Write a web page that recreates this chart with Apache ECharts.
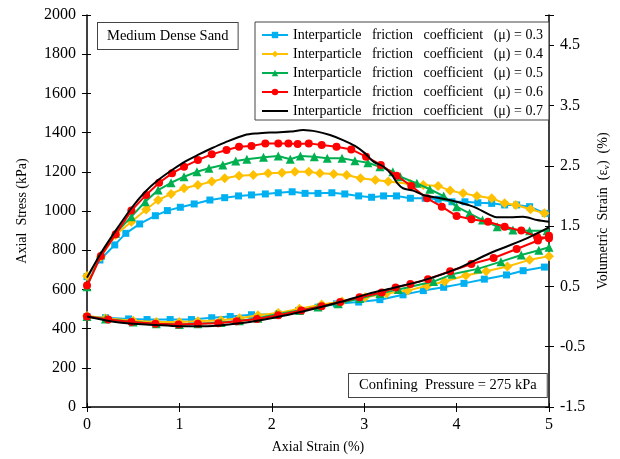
<!DOCTYPE html>
<html><head><meta charset="utf-8">
<script src="https://cdn.jsdelivr.net/npm/echarts@6/dist/echarts.min.js"></script>
<style>html,body{margin:0;padding:0;background:#fff}#c{width:620px;height:459px}</style>
</head><body><div id="c"></div>
<script>
const seriesNames = [
  'Interparticle   friction   coefficient   (\u03bc) = 0.3',
  'Interparticle   friction   coefficient   (\u03bc) = 0.4',
  'Interparticle   friction   coefficient   (\u03bc) = 0.5',
  'Interparticle   friction   coefficient   (\u03bc) = 0.6',
  'Interparticle   friction   coefficient   (\u03bc) = 0.7'
];
const colors = ['#00B0F0', '#FFC000', '#00B050', '#FF0000', '#000000'];
const symbols = ['rect', 'diamond', 'triangle', 'circle', 'none'];
const symbolSizes = [7, 10, 9, 8, 0];

// Axial stress (kPa) vs axial strain (%)
const stress03 = [[0,665],[0.14,750],[0.3,827],[0.42,886],[0.57,934],[0.74,976],[0.87,1002],[1.01,1019],[1.16,1036],[1.33,1056],[1.49,1068],[1.64,1077],[1.78,1082],[1.93,1087],[2.07,1093],[2.22,1098],[2.36,1090],[2.5,1090],[2.65,1093],[2.79,1087],[2.94,1077],[3.08,1070],[3.21,1077],[3.35,1077],[3.5,1065],[3.66,1065],[3.8,1060],[3.95,1047],[4.09,1047],[4.23,1042],[4.38,1039],[4.52,1031],[4.65,1031],[4.79,1022],[4.96,988]];
const stress04 = [[0,668],[0.15,767],[0.31,878],[0.48,945],[0.64,1008],[0.77,1056],[0.91,1087],[1.05,1116],[1.2,1133],[1.35,1150],[1.49,1167],[1.645,1180],[1.8,1184],[1.96,1192],[2.11,1195],[2.25,1200],[2.4,1200],[2.52,1192],[2.67,1189],[2.81,1184],[2.96,1167],[3.12,1158],[3.26,1150],[3.5,1138],[3.64,1133],[3.8,1128],[3.93,1104],[4.07,1090],[4.22,1077],[4.38,1065],[4.52,1039],[4.64,1031],[4.8,1009],[4.95,988]];
const stress05 = [[0,614],[0.15,776],[0.31,886],[0.48,971],[0.63,1047],[0.77,1107],[0.91,1144],[1.05,1175],[1.19,1200],[1.32,1218],[1.47,1235],[1.61,1255],[1.73,1264],[1.91,1274],[2.07,1281],[2.2,1264],[2.31,1281],[2.46,1277],[2.6,1269],[2.76,1269],[2.9,1257],[3.04,1246],[3.17,1226],[3.31,1200],[3.39,1175],[3.57,1141],[3.71,1111],[3.86,1076],[4.0,1022],[4.14,988],[4.28,954],[4.44,920],[4.61,903],[4.79,899],[4.98,899]];
const stress06 = [[0,620],[0.15,770],[0.31,881],[0.48,1002],[0.64,1082],[0.78,1144],[0.92,1192],[1.05,1226],[1.2,1260],[1.35,1289],[1.51,1311],[1.645,1328],[1.78,1332],[1.93,1345],[2.07,1345],[2.18,1345],[2.28,1342],[2.4,1345],[2.54,1337],[2.7,1328],[2.86,1314],[3.02,1277],[3.18,1235],[3.35,1180],[3.51,1128],[3.68,1065],[3.84,1022],[4.0,974],[4.16,958],[4.34,945],[4.52,920],[4.7,900],[4.87,869],[5.0,861]];
const stress07 = [[0,660],[0.16,792],[0.34,920],[0.48,1014],[0.63,1098],[0.77,1158],[0.92,1209],[1.06,1252],[1.2,1286],[1.35,1320],[1.49,1349],[1.71,1388],[1.84,1396],[2.02,1401],[2.2,1405],[2.34,1413],[2.49,1405],[2.63,1388],[2.77,1362],[2.9,1332],[3.01,1294],[3.1,1252],[3.21,1226],[3.3,1184],[3.36,1141],[3.42,1116],[3.53,1104],[3.64,1082],[3.82,1065],[4.0,1047],[4.18,1022],[4.36,980],[4.43,968],[4.58,968],[4.72,971],[4.87,954],[5.0,945]];

// Volumetric strain (%) vs axial strain (%)
const vol03 = [[0,0],[0.2,-0.02],[0.45,-0.04],[0.65,-0.05],[0.9,-0.05],[1.13,-0.05],[1.35,-0.02],[1.55,0.0],[1.78,0.03],[2.07,0.04],[2.29,0.1],[2.5,0.155],[2.7,0.21],[2.94,0.24],[3.17,0.28],[3.42,0.36],[3.64,0.43],[3.86,0.485],[4.08,0.55],[4.3,0.62],[4.54,0.69],[4.72,0.76],[4.95,0.82]];
const vol04 = [[0,0.01],[0.2,-0.03],[0.5,-0.07],[0.75,-0.09],[1.0,-0.09],[1.2,-0.08],[1.45,-0.06],[1.65,-0.03],[1.85,0.02],[2.07,0.06],[2.3,0.13],[2.54,0.2],[2.76,0.25],[3.01,0.32],[3.24,0.38],[3.47,0.43],[3.68,0.51],[3.87,0.58],[4.1,0.68],[4.32,0.75],[4.55,0.83],[4.79,0.94],[5.0,1.0]];
const vol05 = [[0,0],[0.2,-0.04],[0.5,-0.09],[0.75,-0.12],[1.0,-0.13],[1.2,-0.12],[1.45,-0.1],[1.65,-0.07],[1.85,-0.03],[2.05,0.04],[2.3,0.1],[2.5,0.16],[2.72,0.21],[2.95,0.3],[3.17,0.38],[3.37,0.45],[3.75,0.58],[3.95,0.7],[4.23,0.79],[4.48,0.91],[4.7,1.02],[4.89,1.1],[5.0,1.15]];
const vol06 = [[0,0],[0.23,-0.05],[0.48,-0.09],[0.74,-0.12],[0.99,-0.13],[1.2,-0.12],[1.42,-0.11],[1.62,-0.08],[1.84,-0.04],[2.07,0.02],[2.32,0.1],[2.54,0.17],[2.74,0.24],[2.95,0.32],[3.19,0.4],[3.34,0.48],[3.5,0.54],[3.69,0.62],[3.93,0.75],[4.16,0.87],[4.4,0.97],[4.65,1.12],[4.88,1.26],[5.0,1.34]];
const vol07 = [[0,0],[0.35,-0.1],[0.75,-0.14],[1.0,-0.16],[1.3,-0.16],[1.66,-0.11],[2.02,-0.02],[2.38,0.1],[2.74,0.24],[3.05,0.38],[3.3,0.47],[3.64,0.6],[4.0,0.79],[4.36,1.05],[4.72,1.27],[5.0,1.48]];

const stressData = [stress03, stress04, stress05, stress06, stress07];
const volData = [vol03, vol04, vol05, vol06, vol07];

const FONT = "'Liberation Serif', 'Times New Roman', serif";
const axisLineStyle = { color: '#000', width: 1.5 };

const series = [];
for (let i = 0; i < 5; i++) {
  const base = {
    name: seriesNames[i],
    type: 'line',
    symbol: symbols[i],
    symbolSize: symbolSizes[i],
    showSymbol: symbols[i] !== 'none',
    smooth: i === 4 ? 0.3 : false,
    lineStyle: { color: colors[i], width: 2 },
    itemStyle: { color: colors[i] },
    animation: false,
    z: 2 + i
  };
  series.push(Object.assign({}, base, { xAxisIndex: 0, yAxisIndex: 0, data: stressData[i] }));
  series.push(Object.assign({}, base, { xAxisIndex: 0, yAxisIndex: 1, data: volData[i] }));
}

const legendData = seriesNames.map(function (n, i) {
  return i === 4 ? { name: n, itemStyle: { opacity: 0 } } : { name: n };
});

const chart = echarts.init(document.getElementById('c'), null, { renderer: 'canvas' });
chart.setOption({
  backgroundColor: '#fff',
  animation: false,
  textStyle: { fontFamily: FONT },
  grid: { left: 87, right: 71, top: 15, bottom: 52, containLabel: false },
  legend: {
    data: legendData,
    orient: 'vertical',
    left: 255, top: 22,
    padding: [6, 6, 2, 6],
    itemGap: 5,
    itemWidth: 26, itemHeight: 8,
    backgroundColor: '#fff',
    borderColor: '#444', borderWidth: 1,
    textStyle: { fontFamily: FONT, fontSize: 14, color: '#000' }
  },
  xAxis: [
    { type: 'value', min: 0, max: 5, interval: 1,
      name: 'Axial Strain (%)', nameLocation: 'middle', nameGap: 33,
      nameTextStyle: { fontFamily: FONT, fontSize: 14, color: '#000' },
      axisLine: { lineStyle: axisLineStyle, onZero: false },
      axisTick: { show: true, inside: false, length: 5, lineStyle: { color: '#000' } },
      axisLabel: { fontFamily: FONT, fontSize: 16, color: '#000', margin: 10 },
      splitLine: { show: false } },
    { type: 'value', min: 0, max: 5, interval: 1, position: 'bottom',
      axisLine: { show: false, onZero: false }, axisLabel: { show: false }, splitLine: { show: false },
      axisTick: { show: true, inside: true, length: 4, lineStyle: { color: '#000' } } }
  ],
  yAxis: [
    { type: 'value', min: 0, max: 2000, interval: 200, position: 'left',
      name: 'Axial  Stress (kPa)', nameLocation: 'middle', nameGap: 58,
      nameTextStyle: { fontFamily: FONT, fontSize: 14, color: '#000' },
      axisLine: { show: true, lineStyle: axisLineStyle, onZero: false },
      axisTick: { show: true, inside: false, length: 5, lineStyle: { color: '#000' } },
      axisLabel: { fontFamily: FONT, fontSize: 16, color: '#000', margin: 11,
        formatter: function (v) { return String(v); } },
      splitLine: { show: false } },
    { type: 'value', min: -1.5, max: 5, interval: 1, position: 'right',
      name: '{n|Volumetric  Strain  (\u03b5}{s|v}{n|)  (%)}', nameLocation: 'middle', nameGap: 47,
      nameTextStyle: { fontFamily: FONT, fontSize: 14, color: '#000',
        rich: { n: { fontFamily: FONT, fontSize: 14, color: '#000' },
                s: { fontFamily: FONT, fontSize: 9, color: '#000', verticalAlign: 'bottom', padding: [6, 0, 0, 0] } } },
      axisLine: { show: true, lineStyle: axisLineStyle, onZero: false },
      axisTick: { show: true, inside: false, length: 5, lineStyle: { color: '#000' } },
      axisLabel: { fontFamily: FONT, fontSize: 16, color: '#000', margin: 11,
        formatter: function (v) { return Math.abs((v + 1.5) - Math.round(v + 1.5)) < 1e-6 && v < 4.9 ? v.toFixed(1) : ''; } },
      splitLine: { show: false } },
    { type: 'value', min: 0, max: 2000, interval: 200, position: 'left',
      axisLine: { show: false, onZero: false }, axisLabel: { show: false }, splitLine: { show: false },
      axisTick: { show: true, inside: true, length: 4, lineStyle: { color: '#000' } } },
    { type: 'value', min: -1.5, max: 5, interval: 1, position: 'right',
      axisLine: { show: false, onZero: false }, axisLabel: { show: false }, splitLine: { show: false },
      axisTick: { show: true, inside: true, length: 4, lineStyle: { color: '#000' } } }
  ],
  graphic: [
    { type: 'text', left: 97, top: 22, z: 100,
      style: { text: 'Medium Dense Sand', font: '14.5px ' + FONT, fill: '#000',
        backgroundColor: '#fff', borderColor: '#444', borderWidth: 1, padding: [6, 9, 5, 9] } },
    { type: 'text', left: 348, top: 373, z: 100,
      style: { text: 'Confining  Pressure = 275 kPa', font: '14.5px ' + FONT, fill: '#000',
        backgroundColor: '#fff', borderColor: '#444', borderWidth: 1, padding: [4, 10, 4, 10] } }
  ],
  series: series
});
</script>
</body></html>
